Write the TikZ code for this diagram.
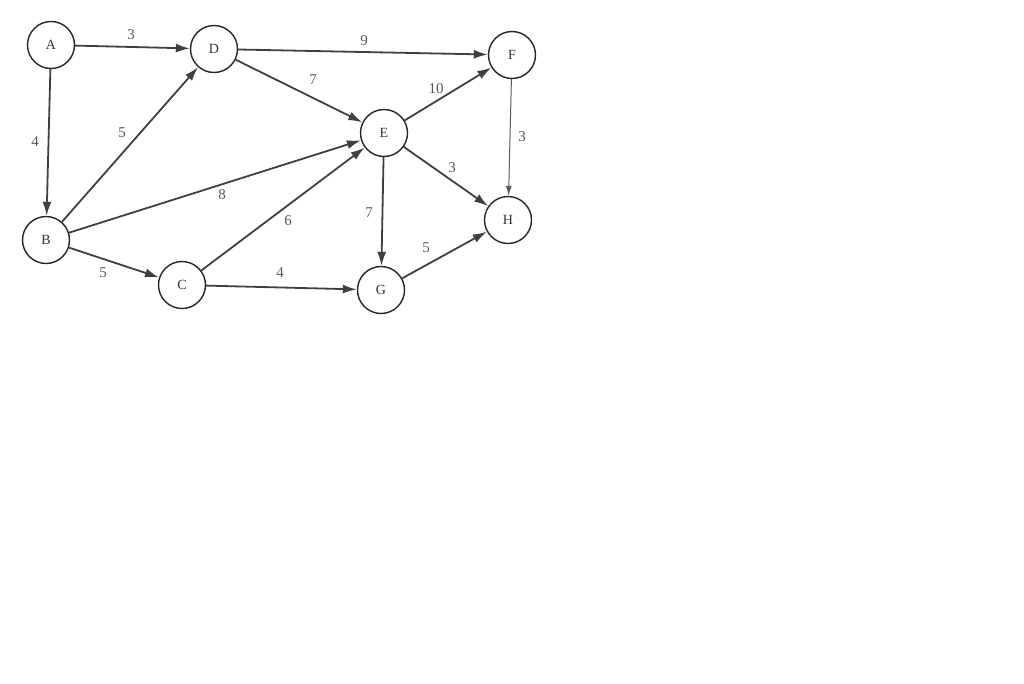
\documentclass[tikz,border=0pt]{standalone}
\usepackage{fontspec}
\setmainfont{Liberation Serif}
\usetikzlibrary{arrows.meta}
\begin{document}
\begin{tikzpicture}[x=1pt,y=-1pt,
  vert/.style={circle,draw=black!85,line width=1.4pt,minimum size=47pt,inner sep=0pt,font=\fontsize{14}{14}\selectfont,text=black!80},
  arc/.style={draw=black!75,line width=1.8pt,-{Latex[length=14pt,width=9pt]}},
  thinarc/.style={draw=black!65,line width=1pt,-{Latex[length=10pt,width=6pt]}},
  wt/.style={font=\fontsize{15}{15}\selectfont,text=black!65,inner sep=1pt}]
\useasboundingbox (0,0) rectangle (1024,683);
\node[vert] (A) at (51,45) {A};
\node[vert] (D) at (214,49) {D};
\node[vert] (F) at (512,55) {F};
\node[vert] (E) at (384,133) {E};
\node[vert] (B) at (46,240) {B};
\node[vert] (C) at (182,285) {C};
\node[vert] (G) at (381,290) {G};
\node[vert] (H) at (508,220) {H};
\draw[arc] (A) -- (D);
\draw[arc] (A) -- (B);
\draw[arc] (B) -- (D);
\draw[arc] (B) -- (E);
\draw[arc] (B) -- (C);
\draw[arc] (C) -- (E);
\draw[arc] (C) -- (G);
\draw[arc] (D) -- (F);
\draw[arc] (D) -- (E);
\draw[arc] (E) -- (F);
\draw[arc] (E) -- (H);
\draw[arc] (E) -- (G);
\draw[thinarc] (F) -- (H);
\draw[arc] (G) -- (H);
\node[wt] (wAD) at (131,35) {3};
\node[wt] (wAB) at (35,142) {4};
\node[wt] (wBD) at (122,133) {5};
\node[wt] (wBE) at (222,195) {8};
\node[wt] (wBC) at (103,273) {5};
\node[wt] (wDF) at (364,41) {9};
\node[wt] (wDE) at (313,80) {7};
\node[wt] (wEF) at (436,89) {10};
\node[wt] (wEH) at (452,168) {3};
\node[wt] (wEG) at (369,213) {7};
\node[wt] (wCE) at (288,221) {6};
\node[wt] (wFH) at (522,137) {3};
\node[wt] (wGH) at (426,248) {5};
\node[wt] (wCG) at (280,273) {4};
\end{tikzpicture}
\end{document}
